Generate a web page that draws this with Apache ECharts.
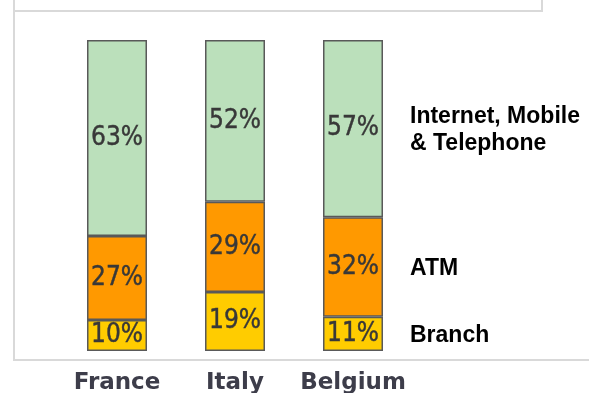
<!DOCTYPE html>
<html>
<head>
<meta charset="utf-8">
<script src="https://cdn.jsdelivr.net/npm/echarts@6/dist/echarts.min.js"></script>
<style>
  html, body { margin: 0; padding: 0; background: #ffffff; }
  #chart { width: 589px; height: 393px; }
</style>
</head>
<body>
<div id="chart"></div>
<script>
// Channel mix by country (share of transactions, %)
const countries = ['France', 'Italy', 'Belgium'];
const branch = [10, 19, 11];
const atm = [27, 29, 32];
const online = [63, 52, 57];
const channelNames = ['Branch', 'ATM', 'Internet, Mobile\n& Telephone'];

const colors = { branch: '#ffcc00', atm: '#ff9900', online: '#bbe0bb' };
const edge = '#595959';
const frame = '#d9d9d9';

const chart = echarts.init(document.getElementById('chart'), null, { renderer: 'canvas' });

function seg(name, data, color) {
  return {
    name: name,
    type: 'bar',
    stack: 'mix',
    data: data,
    barWidth: 60,
    itemStyle: { color: color, borderColor: edge, borderWidth: 1.5 },
    label: {
      show: true,
      position: 'inside',
      formatter: '{c}%',
      fontFamily: '"DejaVu Sans Condensed", "Liberation Sans Narrow", sans-serif',
      fontSize: 26,
      color: '#383838',
      textBorderColor: '#383838',
      textBorderWidth: 0.4
    },
    emphasis: { disabled: true },
    animation: false
  };
}

chart.setOption({
  animation: false,
  grid: { left: 58, right: 177, top: 40, bottom: 42, outerBoundsMode: 'none', containLabel: false },
  xAxis: {
    type: 'category',
    data: countries,
    axisLine: { show: false },
    axisTick: { show: false },
    axisLabel: {
      interval: 0,
      margin: 21,
      fontFamily: '"DejaVu Sans", sans-serif',
      fontWeight: 'bold',
      fontSize: 23,
      color: '#3d3d4a'
    }
  },
  yAxis: { type: 'value', min: 0, max: 100, show: false },
  series: [
    seg('Branch', branch, colors.branch),
    seg('ATM', atm, colors.atm),
    seg('Internet, Mobile & Telephone', online, colors.online)
  ]
});

// Channel names beside the last column, centred on its segments
const lineH = 27;
const last = countries.length - 1;
const parts = [branch[last], atm[last], online[last]];
let base = 0;
const nameTexts = parts.map((v, i) => {
  const mid = base + v / 2;
  base += v;
  const p = chart.convertToPixel({ gridIndex: 0 }, [last, mid]);
  const lines = channelNames[i].split('\n').length;
  return {
    type: 'text',
    left: 410,
    top: p[1] - (lines * lineH) / 2 + 2,
    style: {
      text: channelNames[i],
      font: 'bold 23px "Liberation Sans", Arial, sans-serif',
      fill: '#000000',
      lineHeight: lineH,
      verticalAlign: 'top'
    },
    silent: true
  };
});

chart.setOption({
  graphic: [
    {
      type: 'polyline',
      shape: { points: [[14, 0], [14, 11], [542, 11], [542, 0]] },
      style: { stroke: frame, lineWidth: 2, fill: null },
      silent: true
    },
    {
      type: 'polyline',
      shape: { points: [[14, 11], [14, 360], [589, 360]] },
      style: { stroke: frame, lineWidth: 2, fill: null },
      silent: true
    }
  ].concat(nameTexts)
});
</script>
</body>
</html>
